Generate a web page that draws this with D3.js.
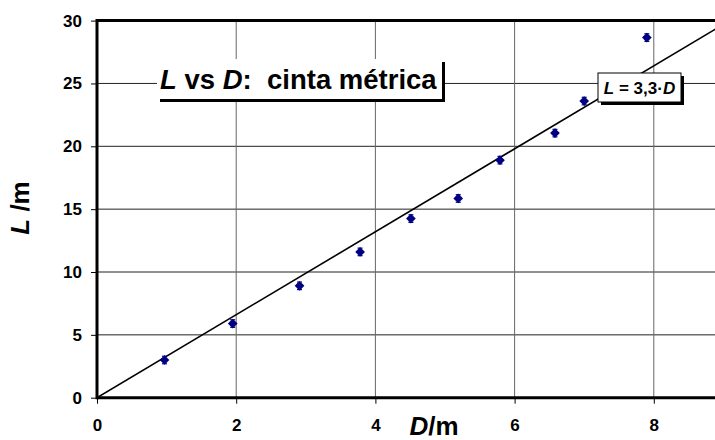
<!DOCTYPE html>
<html>
<head>
<meta charset="utf-8">
<script src="https://cdn.jsdelivr.net/npm/d3@7"></script>
<style>
	body { margin: 0; background: #fff; }
	svg { display: block; font-family: Arial, 'Liberation Sans', sans-serif; }
</style>
</head>
<body>
<div class="board"></div>
<script>
var distD = [0.97, 1.95, 2.91, 3.78, 4.51, 5.19, 5.79, 6.58, 7.00, 7.90];
var lenL = [3.0, 5.9, 8.9, 11.6, 14.25, 15.85, 18.9, 21.05, 23.6, 28.65];
var errL = [0.3, 0.3, 0.3, 0.3, 0.3, 0.3, 0.3, 0.3, 0.3, 0.3];
var xTicks = [0, 2, 4, 6, 8];
var yTicks = [0, 5, 10, 15, 20, 25, 30];
var slope = 3.3;

var w = 715, h = 440;
var svg = d3.select('.board')
	.append('svg')
	.attr('width', w)
	.attr('height', h);

var x = d3.scaleLinear().domain([0, 9]).range([97, 723.4]);
var y = d3.scaleLinear().domain([0, 30]).range([397.7, 20.6]);

var points = distD.map(function(d, i){
	return {d: d, l: lenL[i], e: errL[i]};
});

// grid
svg.selectAll('line.hgrid')
	.data(yTicks.slice(1, -1))
	.enter()
	.append('line')
	.attr('class', 'hgrid')
	.attr('x1', x(0)).attr('x2', x(9))
	.attr('y1', function(d){ return y(d); })
	.attr('y2', function(d){ return y(d); })
	.style('stroke', '#222')
	.style('stroke-width', 1);
svg.selectAll('line.vgrid')
	.data(xTicks.slice(1))
	.enter()
	.append('line')
	.attr('class', 'vgrid')
	.attr('y1', y(0)).attr('y2', y(30))
	.attr('x1', function(d){ return x(d); })
	.attr('x2', function(d){ return x(d); })
	.style('stroke', '#666')
	.style('stroke-width', 1);

// top frame
svg.append('line')
	.attr('x1', x(0)).attr('x2', x(9))
	.attr('y1', y(30)).attr('y2', y(30))
	.style('stroke', '#000')
	.style('stroke-width', 3);

// fit line L = 3,3 D
svg.append('clipPath').attr('id', 'plotClip')
	.append('rect')
	.attr('x', x(0)).attr('y', y(30))
	.attr('width', x(9) - x(0)).attr('height', y(0) - y(30));
svg.append('line')
	.attr('clip-path', 'url(#plotClip)')
	.attr('x1', x(0)).attr('y1', y(0))
	.attr('x2', x(30 / slope)).attr('y2', y(30))
	.style('stroke', '#000')
	.style('stroke-width', 1.6);

// axes
var xAxis = svg.append('g')
	.attr('transform', 'translate(0,' + y(0) + ')')
	.call(d3.axisBottom(x).tickValues(xTicks).tickSize(6).tickPadding(15));
var yAxis = svg.append('g')
	.attr('transform', 'translate(' + x(0) + ',0)')
	.call(d3.axisLeft(y).tickValues(yTicks).tickSize(6).tickPadding(9));
[xAxis, yAxis].forEach(function(ax){
	ax.select('.domain').attr('d', null);
	ax.selectAll('.tick line').style('stroke', '#000').style('stroke-width', 1);
	ax.selectAll('.tick text')
		.attr('font-family', null)
		.style('font-size', '17px')
		.style('font-weight', 'bold')
		.style('fill', '#000');
});
svg.append('line')
	.attr('x1', x(0)).attr('x2', x(9))
	.attr('y1', y(0)).attr('y2', y(0))
	.style('stroke', '#000').style('stroke-width', 3);
svg.append('line')
	.attr('x1', x(0)).attr('x2', x(0))
	.attr('y1', y(0) + 1.5).attr('y2', y(30) - 1.5)
	.style('stroke', '#000').style('stroke-width', 3);

// error bars
var eb = svg.selectAll('g.err')
	.data(points)
	.enter()
	.append('g')
	.attr('class', 'err')
	.style('stroke', '#000080')
	.style('stroke-width', 1.2);
eb.append('line')
	.attr('x1', function(d){ return x(d.d); })
	.attr('x2', function(d){ return x(d.d); })
	.attr('y1', function(d){ return y(d.l - d.e); })
	.attr('y2', function(d){ return y(d.l + d.e); });
eb.append('line')
	.attr('x1', function(d){ return x(d.d) - 2.5; })
	.attr('x2', function(d){ return x(d.d) + 2.5; })
	.attr('y1', function(d){ return y(d.l - d.e); })
	.attr('y2', function(d){ return y(d.l - d.e); });
eb.append('line')
	.attr('x1', function(d){ return x(d.d) - 2.5; })
	.attr('x2', function(d){ return x(d.d) + 2.5; })
	.attr('y1', function(d){ return y(d.l + d.e); })
	.attr('y2', function(d){ return y(d.l + d.e); });

// markers
svg.selectAll('path.pt')
	.data(points)
	.enter()
	.append('path')
	.attr('class', 'pt')
	.attr('d', d3.symbol().type(d3.symbolDiamond2).size(60))
	.attr('transform', function(d){
		return 'translate(' + x(d.d) + ',' + y(d.l) + ')';
	})
	.style('fill', '#000080');

// axis titles
var xt = svg.append('text')
	.attr('x', 434).attr('y', 435)
	.attr('text-anchor', 'middle')
	.style('font-size', '26px')
	.style('font-weight', 'bold');
xt.append('tspan').style('font-style', 'italic').text('D');
xt.append('tspan').text('/m');

var yt = svg.append('text')
	.attr('transform', 'translate(29,208) rotate(-90)')
	.attr('text-anchor', 'middle')
	.style('font-size', '26px')
	.style('font-weight', 'bold');
yt.append('tspan').style('font-style', 'italic').text('L');
yt.append('tspan').text(' /m');

// title box
svg.append('rect')
	.attr('x', 160).attr('y', 62)
	.attr('width', 285).attr('height', 40)
	.style('fill', '#000');
svg.append('rect')
	.attr('x', 157).attr('y', 59)
	.attr('width', 285).attr('height', 40)
	.style('fill', '#fff');
var tt = svg.append('text')
	.attr('x', 160).attr('y', 89)
	.style('font-size', '27.5px')
	.style('font-weight', 'bold');
tt.append('tspan').style('font-style', 'italic').text('L');
tt.append('tspan').text(' vs ');
tt.append('tspan').style('font-style', 'italic').text('D');
tt.append('tspan').text(':\u00a0 cinta métrica');

// equation box
svg.append('rect')
	.attr('x', 601).attr('y', 76)
	.attr('width', 83).attr('height', 29)
	.style('fill', '#000');
svg.append('rect')
	.attr('x', 598).attr('y', 73)
	.attr('width', 83).attr('height', 29)
	.style('fill', '#fff')
	.style('stroke', '#000')
	.style('stroke-width', 1);
var et = svg.append('text')
	.attr('x', 639.5).attr('y', 94)
	.attr('text-anchor', 'middle')
	.style('font-size', '17px')
	.style('font-weight', 'bold');
et.append('tspan').style('font-style', 'italic').text('L');
et.append('tspan').text(' = 3,3\u00b7');
et.append('tspan').style('font-style', 'italic').text('D');
</script>
</body>
</html>
